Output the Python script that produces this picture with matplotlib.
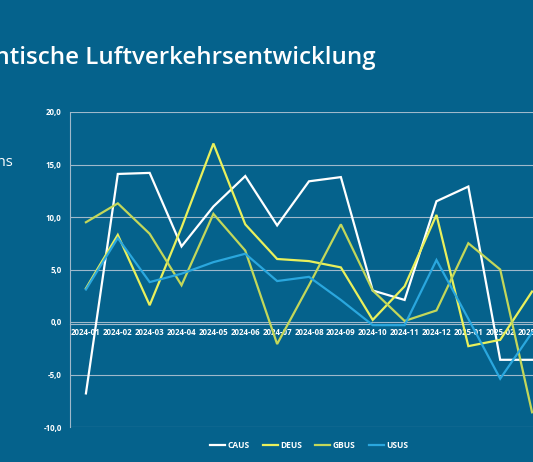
import matplotlib
matplotlib.use("Agg")
import matplotlib.pyplot as plt
from matplotlib.ticker import FuncFormatter

categories = ["2024-01", "2024-02", "2024-03", "2024-04", "2024-05", "2024-06",
              "2024-07", "2024-08", "2024-09", "2024-10", "2024-11", "2024-12",
              "2025-01", "2025-02", "2025-03"]
caus = [-6.8, 14.1, 14.2, 7.2, 11.0, 13.9, 9.2, 13.4, 13.8, 3.0, 2.1, 11.5, 12.9, -3.6, -3.6]
deus = [3.2, 8.3, 1.6, 9.0, 17.0, 9.3, 6.0, 5.8, 5.2, 0.2, 3.4, 10.2, -2.3, -1.7, 2.9]
gbus = [9.5, 11.3, 8.4, 3.5, 10.3, 6.8, -2.1, 3.5, 9.3, 3.0, 0.1, 1.1, 7.5, 5.0, -8.6]
usus = [3.1, 8.0, 3.8, 4.6, 5.7, 6.5, 3.9, 4.3, 2.1, -0.3, -0.3, 5.9, 0.3, -5.4, -1.0]
series_names = ["CAUS", "DEUS", "GBUS", "USUS"]
yticks = [-10, -5, 0, 5, 10, 15, 20]

BG = "#05628c"
GRID = "#9fb9cb"
colors = ["#ffffff", "#e9f05c", "#c3d75a", "#2aa7de"]

W, H = 533, 462
fig = plt.figure(figsize=(W / 100, H / 100), dpi=100, facecolor=BG)
ax = fig.add_axes([70 / W, 35 / H, 478 / W, 315 / H])
ax.set_facecolor(BG)

x = list(range(len(categories)))
for name, vals, c in zip(series_names, [caus, deus, gbus, usus], colors):
    ax.plot(x, vals, color=c, lw=1.6, label=name, solid_joinstyle="miter", zorder=3)

ax.set_xlim(-0.5, len(categories) - 0.5)
ax.set_ylim(-10, 20)
ax.set_yticks(yticks)
ax.yaxis.set_major_formatter(FuncFormatter(lambda v, p: f"{v:.1f}".replace(".", ",")))
ax.grid(axis="y", color=GRID, lw=0.8, zorder=1)
ax.set_xticks(x)
ax.set_xticklabels(categories)

for s in ["top", "right"]:
    ax.spines[s].set_visible(False)
ax.spines["left"].set_color(GRID)
ax.spines["left"].set_linewidth(0.8)
ax.spines["bottom"].set_position(("data", -0.2))
ax.spines["bottom"].set_color(GRID)
ax.spines["bottom"].set_linewidth(0.8)

ax.tick_params(axis="both", length=0, colors="white")
ax.tick_params(axis="x", pad=2.5)
ax.tick_params(axis="y", pad=6)
for lab in ax.get_xticklabels() + ax.get_yticklabels():
    lab.set_fontsize(5.7)
    lab.set_fontweight("bold")
    lab.set_color("white")
    lab.set_family("Open Sans")

leg = ax.legend(loc="upper center", bbox_to_anchor=(0.5, -0.02), ncol=4, frameon=False,
                handlelength=1.8, handletextpad=0.3, columnspacing=1.6,
                prop={"family": "Open Sans", "weight": "bold", "size": 6.0})
for t in leg.get_texts():
    t.set_color("white")

fig.text(376 / W, 1 - 64 / H, "Transatlantische Luftverkehrsentwicklung", ha="right",
         va="baseline", color="white", fontsize=17.4, fontweight="semibold", family="Open Sans")
fig.text(13 / W, 1 - 166 / H, "Passagieraufkommens", ha="right", va="baseline",
         color="white", fontsize=10.5, family="Open Sans")

fig.savefig("out.png", dpi=100, facecolor=BG)
